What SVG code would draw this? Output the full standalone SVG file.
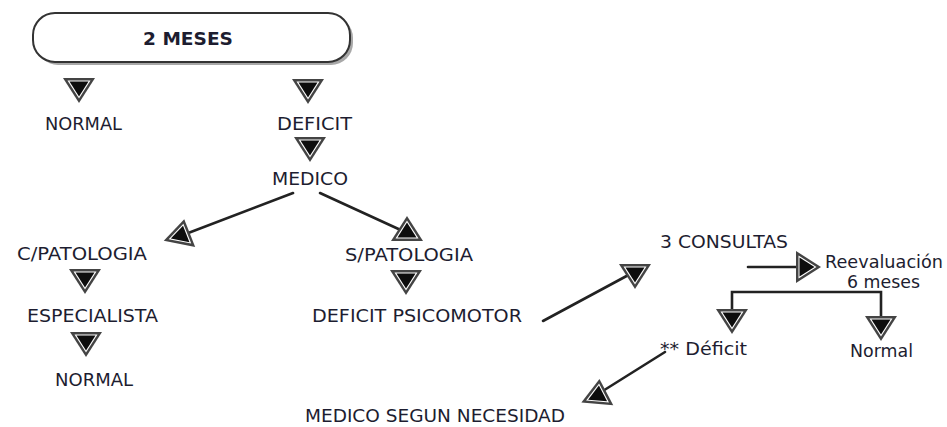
<svg xmlns="http://www.w3.org/2000/svg" xmlns:xlink="http://www.w3.org/1999/xlink" width="947" height="427" viewBox="0 0 947 427">
  <style>
    .lbl { font-family: "DejaVu Sans", Verdana, sans-serif; font-size: 18px; fill: #1d1d30; }
    .title { font-family: "DejaVu Sans", Verdana, sans-serif; font-size: 18px; font-weight: bold; fill: #1d1d30; }
    .line { stroke: #222; stroke-width: 2.6; fill: none; stroke-linecap: round; }
  </style>
  <defs>
    <!-- double-outlined triangular head, centred on its centroid, apex pointing down -->
    <g id="head">
      <polygon points="-16,-8 16,-8 0,17" fill="#444444"/>
      <polygon points="-11.5,-5.5 11.5,-5.5 0,12.5" fill="#ffffff"/>
      <polygon points="-9.5,-4.5 9.5,-4.5 0,10.5" fill="#0d0d0d"/>
    </g>
  </defs>
  <rect width="947" height="427" fill="#ffffff"/>

  <!-- connectors and arrowheads -->
  <g id="connectors">
    <line class="line" x1="293" y1="193" x2="183" y2="235"/>
    <line class="line" x1="320" y1="193" x2="405" y2="232"/>
    <line class="line" x1="543" y1="321" x2="634" y2="272"/>
    <line class="line" x1="748" y1="267" x2="800" y2="267"/>
    <path class="line" d="M732,316 V292 H881 V322" stroke-linecap="butt"/>
    <line class="line" x1="665" y1="352" x2="598" y2="394"/>

    <use xlink:href="#head" transform="translate(79,86)"/>
    <use xlink:href="#head" transform="translate(308,87)"/>
    <use xlink:href="#head" transform="translate(310,145)"/>
    <use xlink:href="#head" transform="translate(181,236) rotate(191)"/>
    <use xlink:href="#head" transform="translate(407,233) rotate(180)"/>
    <use xlink:href="#head" transform="translate(85,277)"/>
    <use xlink:href="#head" transform="translate(86,340)"/>
    <use xlink:href="#head" transform="translate(406,278)"/>
    <use xlink:href="#head" transform="translate(635,272)"/>
    <use xlink:href="#head" transform="translate(804,267) rotate(-90)"/>
    <use xlink:href="#head" transform="translate(732,317)"/>
    <use xlink:href="#head" transform="translate(881,324)"/>
    <use xlink:href="#head" transform="translate(598,396) rotate(185)"/>
  </g>

  <g id="n-2meses">
    <rect x="36" y="16" width="317" height="49" rx="22" ry="22" fill="#a8a8a8"/>
    <rect x="33" y="13" width="317" height="49" rx="22" ry="22" fill="#ffffff" stroke="#333" stroke-width="2"/>
    <text class="title" x="143" y="45" textLength="90" lengthAdjust="spacingAndGlyphs">2 MESES</text>
  </g>
  <g id="n-normal-1"><text class="lbl" x="45" y="130" textLength="77" lengthAdjust="spacingAndGlyphs">NORMAL</text></g>
  <g id="n-deficit"><text class="lbl" x="277" y="130" textLength="75" lengthAdjust="spacingAndGlyphs">DEFICIT</text></g>
  <g id="n-medico"><text class="lbl" x="272" y="185" textLength="76" lengthAdjust="spacingAndGlyphs">MEDICO</text></g>
  <g id="n-cpatologia"><text class="lbl" x="17" y="260" textLength="130" lengthAdjust="spacingAndGlyphs">C/PATOLOGIA</text></g>
  <g id="n-especialista"><text class="lbl" x="27" y="322" textLength="131" lengthAdjust="spacingAndGlyphs">ESPECIALISTA</text></g>
  <g id="n-normal-2"><text class="lbl" x="55" y="386" textLength="78" lengthAdjust="spacingAndGlyphs">NORMAL</text></g>
  <g id="n-spatologia"><text class="lbl" x="345" y="261" textLength="128" lengthAdjust="spacingAndGlyphs">S/PATOLOGIA</text></g>
  <g id="n-deficit-psicomotor"><text class="lbl" x="312" y="322" textLength="210" lengthAdjust="spacingAndGlyphs">DEFICIT PSICOMOTOR</text></g>
  <g id="n-3consultas"><text class="lbl" x="660" y="248" textLength="128" lengthAdjust="spacingAndGlyphs">3 CONSULTAS</text></g>
  <g id="n-reevaluacion">
    <text class="lbl" x="825" y="268" textLength="118" lengthAdjust="spacingAndGlyphs">Reevaluación</text>
    <text class="lbl" x="847" y="288" textLength="73" lengthAdjust="spacingAndGlyphs">6 meses</text>
  </g>
  <g id="n-deficit-2"><text class="lbl" x="660" y="355" textLength="87" lengthAdjust="spacingAndGlyphs">** Déficit</text></g>
  <g id="n-normal-3"><text class="lbl" x="850" y="357" textLength="63" lengthAdjust="spacingAndGlyphs">Normal</text></g>
  <g id="n-medico-necesidad"><text class="lbl" x="305" y="422" textLength="260" lengthAdjust="spacingAndGlyphs">MEDICO SEGUN NECESIDAD</text></g>
</svg>
